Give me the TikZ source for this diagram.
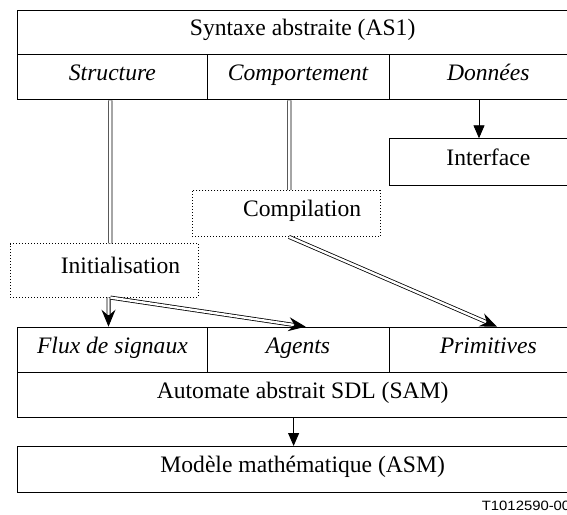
\documentclass[tikz,border=0pt]{standalone}
\usepackage{fontspec}
\setmainfont{Liberation Serif}
\newfontfamily\tagfont{Liberation Sans}
\usetikzlibrary{arrows.meta,calc}
\begin{document}
\begin{tikzpicture}[x=1bp,y=-1bp,
  every node/.style={font=\fontsize{23.6bp}{27bp}\selectfont},
  cellbox/.style={draw, line width=0.9bp, inner sep=0pt, anchor=north west,
    text height=0.66em, text depth=0pt},
  dotbox/.style={cellbox, dash pattern=on 0.9bp off 2.1bp},
  onearrow/.style={draw, line width=0.9bp, -{Triangle[length=13bp,width=11bp]}},
  dblline/.style={draw, line width=0.8bp, double, double distance=2.4bp},
  dbltip/.style={draw, line width=1bp, -{Stealth[length=17bp,width=14bp,inset=6bp]}},
  tagtext/.style={font=\tagfont\fontsize{13.5bp}{15bp}\selectfont, anchor=base west, inner sep=0pt}
]
\useasboundingbox (0,0) rectangle (567,515);
\clip (0,0) rectangle (567,515);

% top block
\node[cellbox, minimum width=569.6bp, minimum height=44.3bp] (as1) at (17.4,10) {Syntaxe abstraite (AS1)};
\node[cellbox, minimum width=189.1bp, minimum height=45.2bp] (struct) at (17.4,54.3) {\itshape Structure};
\node[cellbox, minimum width=182.2bp, minimum height=45.2bp] (comp) at (206.5,54.3) {\itshape Comportement};
\node[cellbox, minimum width=198.3bp, minimum height=45.2bp] (don) at (388.7,54.3) {\itshape Données};

\node[cellbox, minimum width=198.3bp, minimum height=46.7bp] (iface) at (388.7,138.3) {Interface};

% dotted boxes
\node[dotbox, minimum width=188.1bp, minimum height=46bp] (compil) at (191.6,190) {\hspace{32bp}Compilation};
\node[dotbox, minimum width=188bp, minimum height=53.4bp] (init) at (10,243.3) {\hspace{32bp}Initialisation};

% bottom block
\node[cellbox, minimum width=189.1bp, minimum height=45.6bp] (flux) at (17.4,326.7) {\itshape Flux de signaux};
\node[cellbox, minimum width=182.2bp, minimum height=45.6bp] (agents) at (206.5,326.7) {\itshape Agents};
\node[cellbox, minimum width=198.3bp, minimum height=45.6bp] (prim) at (388.7,326.7) {\itshape Primitives};
\node[cellbox, minimum width=569.6bp, minimum height=45bp] (sam) at (17.4,372.3) {Automate abstrait SDL (SAM)};
\node[cellbox, minimum width=569.6bp, minimum height=45.7bp] (asm) at (17.4,446) {Modèle mathématique (ASM)};

\node[tagtext] (tag) at (481.7,510) {\scalebox{1.1}[1]{T1012590-00}};

% single arrows
\draw[onearrow] ([xshift=90.3bp]don.south west) -- ([xshift=90.3bp]iface.north west);
\draw[onearrow] ([xshift=276.2bp]sam.south west) -- ([xshift=276.2bp]asm.north west);

% plain double lines
\draw[dblline] ([xshift=92.9bp]struct.south west) -- ([xshift=100.3bp]init.north west);
\draw[dblline] ([xshift=82.8bp]comp.south west) -- ([xshift=97.7bp]compil.north west);

% double arrows
\coordinate (i1) at ([xshift=98.5bp]init.south west);
\coordinate (f1) at ([xshift=91.1bp]flux.north west);
\coordinate (i2) at ([xshift=100.5bp]init.south west);
\coordinate (a2) at ([xshift=99.1bp]agents.north west);
\coordinate (c3) at ([xshift=97.4bp]compil.south west);
\coordinate (p3) at ([xshift=108.3bp]prim.north west);

\draw[dblline, shorten >=11bp] (i1) -- (f1);
\draw[dbltip] ($(f1)!12bp!(i1)$) -- (f1);
\draw[dblline, shorten >=11bp] (i2) -- (a2);
\draw[dbltip] ($(a2)!12bp!(i2)$) -- (a2);
\draw[dblline, shorten >=11bp] (c3) -- (p3);
\draw[dbltip] ($(p3)!12bp!(c3)$) -- (p3);
\end{tikzpicture}
\end{document}
